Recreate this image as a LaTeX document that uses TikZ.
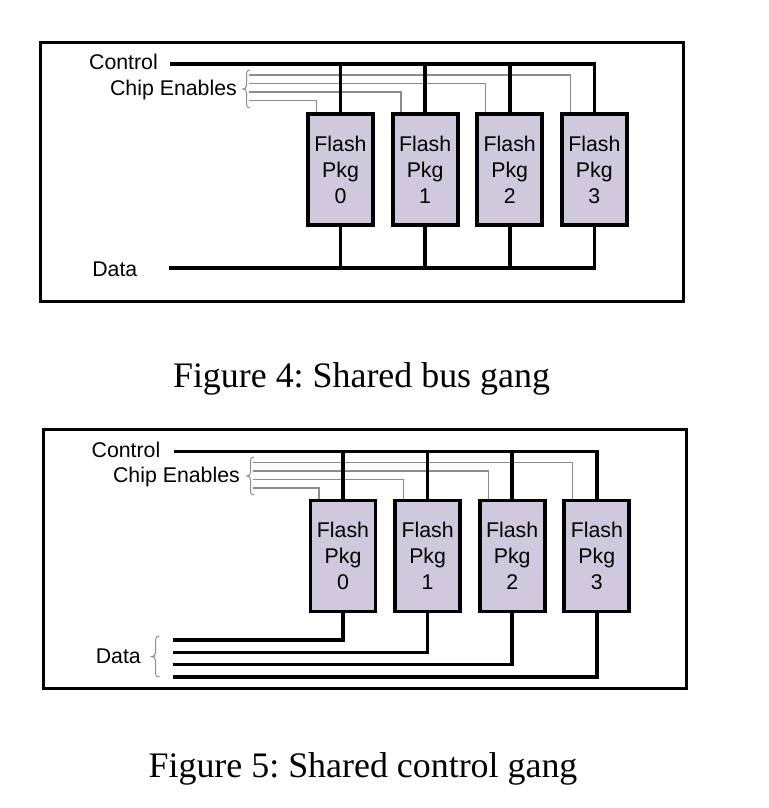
\documentclass[tikz,border=0pt]{standalone}
\usepackage{fontspec}
\setmainfont{Liberation Serif}
\newfontfamily\labfont{Liberation Sans}
\frenchspacing
\definecolor{pkgfill}{RGB}{208,201,221}
\definecolor{wiregray}{RGB}{140,140,140}
\tikzset{
 outerframe/.style={line width=3pt},
 pkg/.style={draw, line width=3.8pt, fill=pkgfill, minimum width=65pt, minimum height=111pt, inner sep=0pt, align=center, font=\labfont\fontsize{21.3}{26}\selectfont},
 buswire/.style={line width=3.6pt},
 cewire/.style={draw=wiregray, line width=1.3pt},
 bracepath/.style={draw=wiregray, line width=1pt},
 lab/.style={font=\labfont\fontsize{21.3}{24}\selectfont, inner sep=0pt},
 captext/.style={font=\fontsize{35.9}{40}\selectfont, inner sep=0pt},
}
\begin{document}
\begin{tikzpicture}[x=1pt,y=-1pt]
\useasboundingbox (0,0) rectangle (768,808);
% ---------------- Figure 4 ----------------
\draw[outerframe] (40.5,42.5) rectangle (683.5,301.5);
\foreach \i/\x in {0/340.5,1/425.1,2/509.7,3/594.3}
  \node[pkg] (f4b\i) at (\x,169.5) {Flash\\Pkg\\\i};
\node[lab, anchor=base east] (f4lc) at (158,70) {Control};
\node[lab, anchor=base east] (f4lce) at (237,95) {Chip Enables};
\node[lab, anchor=base east] (f4ld) at (137.5,276) {Data};
\coordinate (f4ctl) at (170,64);
\coordinate (f4dat) at (169,268);
\foreach \j/\y in {3/75,2/83.5,1/92,0/100.5}
  \coordinate (f4ce\j) at (249,\y);
\foreach \j in {0,...,3}
  \draw[cewire] (f4ce\j) -| ([xshift=-24pt]f4b\j.north);
\draw[bracepath] (250,70) .. controls (247,70) and (246.5,71.5) .. (246.5,74.5) -- (246.5,85) .. controls (246.5,88) and (245,89) .. (243,89) .. controls (245,89) and (246.5,90) .. (246.5,93) -- (246.5,103.5) .. controls (246.5,106.5) and (247,108) .. (250,108);
\draw[buswire] (f4ctl) -| (f4b3.north);
\foreach \j in {0,1,2}
  \draw[buswire] (f4b\j.north) -- (f4b\j.north |- f4ctl);
\draw[buswire] (f4dat) -| (f4b3.south);
\foreach \j in {0,1,2}
  \draw[buswire] (f4b\j.south) -- (f4b\j.south |- f4dat);
\node[captext, anchor=base] (cap4) at (361.5,387) {Figure 4: Shared bus gang};
% ---------------- Figure 5 ----------------
\begin{scope}[shift={(2.5,387)}]
\draw[outerframe] (40.5,42.5) rectangle (683.5,301.5);
\foreach \i/\x in {0/340.5,1/425.1,2/509.7,3/594.3}
  \node[pkg] (f5b\i) at (\x,169) {Flash\\Pkg\\\i};
\node[lab, anchor=base east] (f5lc) at (158,70) {Control};
\node[lab, anchor=base east] (f5lce) at (237.5,95) {Chip Enables};
\node[lab, anchor=base east] (f5ld) at (138.5,276) {Data};
\coordinate (f5ctl) at (171,64.5);
\foreach \j/\y in {3/75.5,2/84,1/92.5,0/101}
  \coordinate (f5ce\j) at (250.5,\y);
\foreach \j in {0,...,3}
  \draw[cewire] (f5ce\j) -| ([xshift=-24pt]f5b\j.north);
\draw[bracepath] (251.5,70) .. controls (248.5,70) and (248,71.5) .. (248,74.5) -- (248,85) .. controls (248,88) and (246.5,89) .. (244.5,89) .. controls (246.5,89) and (248,90) .. (248,93) -- (248,103.5) .. controls (248,106.5) and (248.5,108) .. (251.5,108);
\draw[buswire] (f5ctl) -| (f5b3.north);
\foreach \j in {0,1,2}
  \draw[buswire] (f5b\j.north) -- (f5b\j.north |- f5ctl);
\foreach \j/\y in {0/253,1/265.3,2/277.6,3/290}
  {\coordinate (f5d\j) at (170.5,\y);
   \draw[buswire] (f5d\j) -| (f5b\j.south);}
\draw[bracepath] (157,249) .. controls (154,249) and (153,250.5) .. (153,253.5) -- (153,265.5) .. controls (153,268.5) and (151.5,269.5) .. (149,269.5) .. controls (151.5,269.5) and (153,270.5) .. (153,273.5) -- (153,286) .. controls (153,289) and (154,290) .. (157,290);
\end{scope}
\node[captext, anchor=base] (cap5) at (363,777) {Figure 5: Shared control gang};
\end{tikzpicture}
\end{document}
